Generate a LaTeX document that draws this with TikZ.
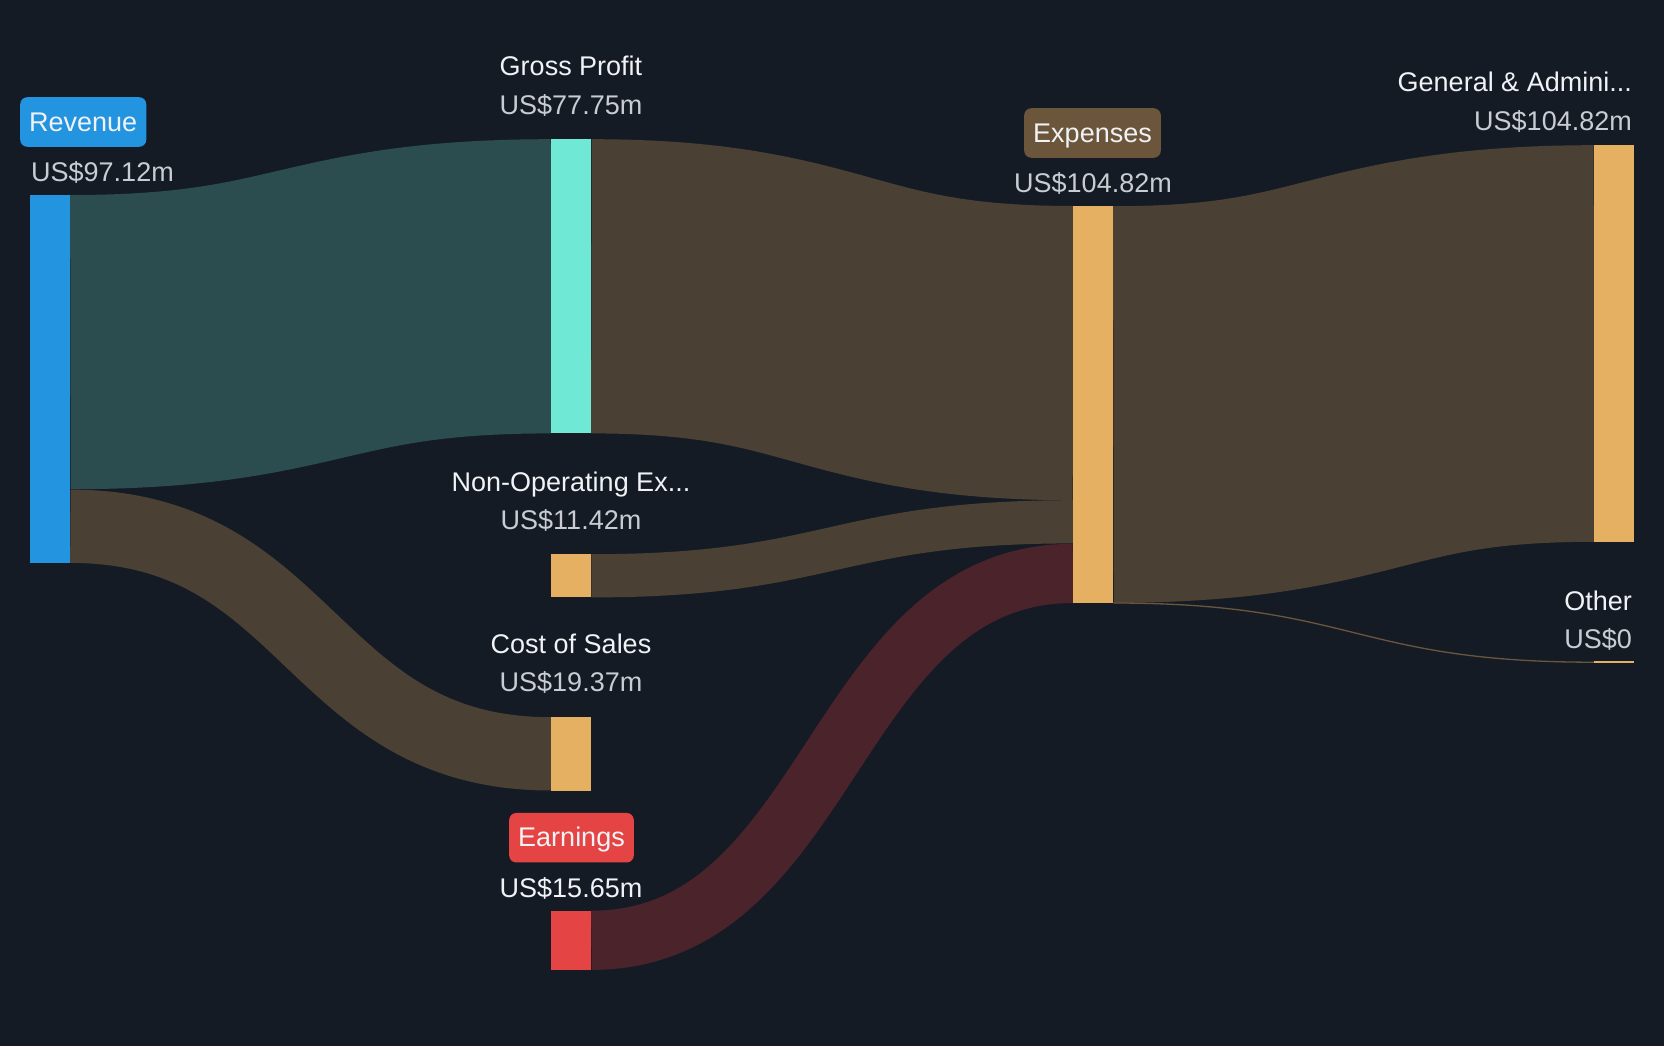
\documentclass[tikz,border=0pt]{standalone}
\usepackage{fontspec}
\setmainfont{Liberation Sans}
\usepackage{xcolor}
\usetikzlibrary{calc,positioning,backgrounds}

\definecolor{bgnavy}{HTML}{151B25}
\definecolor{revblue}{HTML}{2394DF}
\definecolor{gpmint}{HTML}{6FE8D5}
\definecolor{costorange}{HTML}{E5B062}
\definecolor{earnred}{HTML}{E54444}
\definecolor{expbrown}{HTML}{6B563B}
\definecolor{tealflow}{HTML}{2C4D50}
\definecolor{brownflow}{HTML}{4A4034}
\definecolor{redflow}{HTML}{4B232B}
\definecolor{namewhite}{HTML}{F0F2F5}
\definecolor{valgrey}{HTML}{C9CDD3}

\begin{document}
\begin{tikzpicture}[
                x=1pt,y=-1pt,
                bar/.style={rectangle,inner sep=0pt,minimum width=40pt,anchor=north west},
                flow/.style={line width=#1,line cap=butt},
                nametxt/.style={inner sep=0pt,text=namewhite,anchor=base,font=\fontsize{27}{32}\selectfont},
                valtxt/.style={inner sep=0pt,text=valgrey,anchor=base,font=\fontsize{27}{32}\selectfont},
                tagbox/.style={rounded corners=7pt,inner xsep=9pt,inner ysep=15.5pt,
                    text height=18.5pt,text depth=0pt,text=namewhite,font=\fontsize{27}{32}\selectfont}
            ]
                \useasboundingbox (0,0) rectangle (1664,1046);

                \node[bar,fill=revblue,minimum height=367.5pt]    (rev)   at (30,195) {};
                \node[bar,fill=gpmint,minimum height=294.2pt]     (gp)    at (551,139) {};
                \node[bar,fill=costorange,minimum height=43.2pt]  (nonop) at (551,554) {};
                \node[bar,fill=costorange,minimum height=73.3pt]  (cos)   at (551,717) {};
                \node[bar,fill=earnred,minimum height=59.2pt]     (earn)  at (551,910.5) {};
                \node[bar,fill=costorange,minimum height=396.6pt] (exp)   at (1073,206) {};
                \node[bar,fill=costorange,minimum height=396.6pt] (ga)    at (1594,145) {};
                \node[bar,fill=costorange,minimum height=2pt]     (other) at (1594,661) {};

                % where each band leaves or joins a bar
                \coordinate (rev-gp)    at ($(rev.north east)+(0,147.1)$);
                \coordinate (rev-cos)   at ($(rev.south east)+(0,-36.65)$);
                \coordinate (exp-gp)    at ($(exp.north west)+(0,147.1)$);
                \coordinate (exp-nonop) at ($(exp.north west)+(0,315.8)$);
                \coordinate (exp-earn)  at ($(exp.south west)+(0,-29.6)$);

                \begin{pgfonlayer}{background}
                    \fill[bgnavy] (0,0) rectangle (1664,1046);
                    \draw[flow=294.2pt,tealflow]  (rev-gp)    .. controls +(241,0) and +(-241,0) .. (gp.west);
                    \draw[flow=73.3pt,brownflow]  (rev-cos)   .. controls +(241,0) and +(-241,0) .. (cos.west);
                    \draw[flow=294.2pt,brownflow] (gp.east)   .. controls +(241,0) and +(-241,0) .. (exp-gp);
                    \draw[flow=43.2pt,brownflow]  (nonop.east) .. controls +(241,0) and +(-241,0) .. (exp-nonop);
                    \draw[flow=59.2pt,redflow]    (earn.east) .. controls +(241,0) and +(-241,0) .. (exp-earn);
                    \draw[flow=396.6pt,brownflow] (exp.east)  .. controls +(241,0) and +(-241,0) .. (ga.west);
                    \draw[flow=1.3pt,brownflow!80!costorange] (exp.south east) .. controls +(241,0) and +(-241,0) .. (other.west);
                \end{pgfonlayer}

                \node[tagbox,fill=revblue,anchor=west]     (rev-tag)  at (20,122) {Revenue};
                \node[valtxt,anchor=base west]             (rev-val)  at (31,181) {US\$97.12m};
                \node[nametxt]                             (gp-name)  at (571,76) {Gross Profit};
                \node[valtxt]                              (gp-val)   at (571,114) {US\$77.75m};
                \node[nametxt]                             (nonop-name) at (571,491) {Non-Operating Ex...};
                \node[valtxt]                              (nonop-val)  at (571,529) {US\$11.42m};
                \node[nametxt]                             (cos-name) at (571,653) {Cost of Sales};
                \node[valtxt]                              (cos-val)  at (571,691) {US\$19.37m};
                \node[tagbox,fill=earnred]                 (earn-tag) at (571.5,837.7) {Earnings};
                \node[nametxt]                             (earn-val) at (571,897) {US\$15.65m};
                \node[tagbox,fill=expbrown]                (exp-tag)  at (1092.5,133) {Expenses};
                \node[valtxt]                              (exp-val)  at (1093,192) {US\$104.82m};
                \node[nametxt,anchor=base east]            (ga-name)  at (1632,92) {General \& Admini...};
                \node[valtxt,anchor=base east]             (ga-val)   at (1632,131) {US\$104.82m};
                \node[nametxt,anchor=base east]            (other-name) at (1632,610) {Other};
                \node[valtxt,anchor=base east]             (other-val)  at (1632,648) {US\$0};
            \end{tikzpicture}
\end{document}
